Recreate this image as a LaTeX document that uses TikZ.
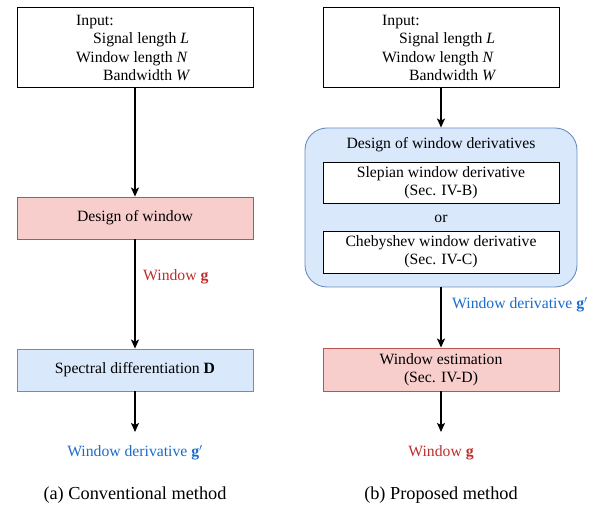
\documentclass[tikz,border=0pt]{standalone}
\usepackage{fontspec}
\setmainfont{Liberation Serif}
\usetikzlibrary{arrows.meta}
\definecolor{redfill}{HTML}{F8CECC}
\definecolor{redline}{HTML}{B85450}
\definecolor{bluefill}{HTML}{DAE8FC}
\definecolor{blueline}{HTML}{6C8EBF}
\definecolor{redtext}{RGB}{190,45,45}
\definecolor{bluetext}{RGB}{26,108,204}
\tikzset{
  base/.style={font=\fontsize{15.7}{18.4}\selectfont, inner sep=0pt},
  box/.style={base, draw=black, line width=0.9pt, fill=white, minimum width=236pt, align=center},
  redbox/.style={box, draw=redline, fill=redfill},
  bluebox/.style={box, draw=blueline, fill=bluefill},
  flow/.style={line width=1.2pt, -{Stealth[length=9pt,width=8pt,inset=2pt]}},
  caption/.style={font=\fontsize{18.3}{22}\selectfont, inner sep=0pt},
  inputtext/.style={base, align=left, anchor=west},
}
\newcommand{\inputlines}{Input:\\\hspace*{17pt}Signal length \textit{L}\\Window length \textit{N}\\\hspace*{27pt}Bandwidth \textit{W}}
\newcommand{\gprime}{\textbf{g}$'$}
\begin{document}
\begin{tikzpicture}[x=1pt,y=-1pt]
\useasboundingbox (0,0) rectangle (598,510);

% (a) conventional pipeline
\node[box, minimum height=80pt] (inA) at (135,47) {};
\node[inputtext] (inAtext) at (76,48) {\inputlines};
\node[redbox, minimum height=42pt] (design) at (135,218) {Design of window};
\node[bluebox, minimum height=42pt] (spec) at (135,370) {Spectral differentiation \textbf{D}};
\coordinate (outA) at (135,432);
\node[base, anchor=west, text=redtext] (winA) at (143,277) {Window \textbf{g}};
\node[base, text=bluetext] (derA) at (135,453) {Window derivative \gprime};
\node[caption] (capA) at (135,495) {(a) Conventional method};
\draw[flow] (inA.south) -- (design.north);
\draw[flow] (design.south) -- (spec.north);
\draw[flow] (spec.south) -- (outA);

% (b) proposed pipeline
\node[box, minimum height=80pt] (inB) at (441,47) {};
\node[inputtext] (inBtext) at (382,48) {\inputlines};
\node[base, draw=blueline, fill=bluefill, line width=0.9pt, rounded corners=22pt,
      minimum width=272pt, minimum height=159pt] (group) at (441,207.5) {};
\node[base] (grouptitle) at (441,145) {Design of window derivatives};
\node[box, minimum height=41pt] (slep) at (441,182.5) {Slepian window derivative\\(Sec. IV-B)};
\node[base] (or) at (441,219) {or};
\node[box, minimum height=42pt] (cheb) at (441,252) {Chebyshev window derivative\\(Sec. IV-C)};
\node[redbox, minimum height=43pt] (est) at (441,369.5) {Window estimation\\(Sec. IV-D)};
\coordinate (outB) at (441,432);
\node[base, anchor=west, text=bluetext] (derB) at (452,305) {Window derivative \gprime};
\node[base, text=redtext] (winB) at (441,453) {Window \textbf{g}};
\node[caption] (capB) at (441,495) {(b) Proposed method};
\draw[flow] (inB.south) -- (group.north);
\draw[flow] (group.south) -- (est.north);
\draw[flow] (est.south) -- (outB);
\end{tikzpicture}
\end{document}
